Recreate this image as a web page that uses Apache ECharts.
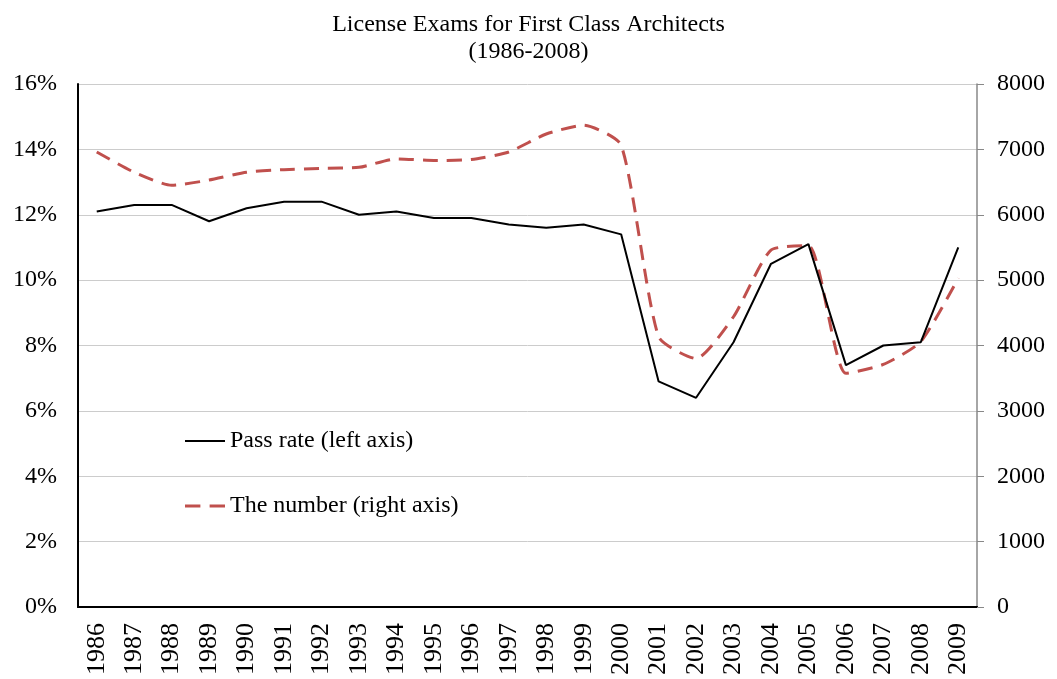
<!DOCTYPE html>
<html>
<head>
<meta charset="utf-8">
<script src="https://cdn.jsdelivr.net/npm/echarts@6/dist/echarts.min.js"></script>
<style>
html,body{margin:0;padding:0;background:#fff;}
#c{width:1057px;height:679px;}
</style>
</head>
<body>
<div id="c"></div>
<script>
var years = ['1986','1987','1988','1989','1990','1991','1992','1993','1994','1995','1996','1997','1998','1999','2000','2001','2002','2003','2004','2005','2006','2007','2008','2009'];
var passRate = [12.1,12.3,12.3,11.8,12.2,12.4,12.4,12.0,12.1,11.9,11.9,11.7,11.6,11.7,11.4,6.9,6.4,8.1,10.5,11.1,7.4,8.0,8.1,11.0];
var examinees = [6960,6650,6450,6530,6650,6690,6710,6725,6855,6830,6845,6960,7235,7370,7065,4135,3800,4440,5460,5525,3575,3710,4060,5030];
var leftTicks = [0,2,4,6,8,10,12,14,16];
var rightTicks = [0,1000,2000,3000,4000,5000,6000,7000,8000];
var titleLines = ['License Exams for First Class Architects','(1986-2008)'];
var seriesNames = ['Pass rate (left axis)','The number (right axis)'];

var FONT = '"Liberation Serif","Times New Roman",serif';
var chart = echarts.init(document.getElementById('c'), null, {renderer:'canvas'});
chart.setOption({
  animation:false,
  backgroundColor:'#fff',
  textStyle:{fontFamily:FONT,color:'#000'},
  title:{
    text:titleLines.join('\n'),
    left:'center', top:6,
    textStyle:{fontFamily:FONT,fontSize:24,fontWeight:'normal',color:'#000',lineHeight:27}
  },
  legend:[
    {data:[seriesNames[0]], left:180, top:424, itemWidth:40, itemHeight:14, itemGap:6,
     icon:'path://M0,6L40,6L40,8L0,8Z',
     textStyle:{fontFamily:FONT,fontSize:24,color:'#000'}, selectedMode:false},
    {data:[seriesNames[1]], left:180, top:489, itemWidth:40, itemHeight:14,
     icon:'path://M0,5.5L15,5.5L15,8.5L0,8.5ZM24,5.5L39,5.5L39,8.5L24,8.5Z',
     textStyle:{fontFamily:FONT,fontSize:24,color:'#000'}, selectedMode:false}
  ],
  grid:{left:78, right:80, top:84, bottom:72, containLabel:false},
  xAxis:[{
    type:'category', data:years, boundaryGap:true, position:'bottom',
    axisLine:{show:true,lineStyle:{color:'#000',width:2}},
    axisTick:{show:false},
    axisLabel:{rotate:90, fontFamily:FONT, fontSize:26, color:'#000', margin:16, interval:0}
  },{
    type:'category', data:years, position:'top',
    axisLine:{show:true,lineStyle:{color:'#000',width:1.5}},
    axisTick:{show:false}, axisLabel:{show:false}
  }],
  yAxis:[{
    type:'value', min:leftTicks[0], max:leftTicks[leftTicks.length-1], interval:2, position:'left',
    axisLine:{show:true,lineStyle:{color:'#000',width:2}},
    axisTick:{show:false},
    axisLabel:{formatter:'{value}%', fontFamily:FONT, fontSize:24, color:'#000', margin:21},
    splitLine:{show:true,lineStyle:{color:'#cccccc',width:1}}
  },{
    type:'value', min:rightTicks[0], max:rightTicks[rightTicks.length-1], interval:1000, position:'right',
    axisLine:{show:true,lineStyle:{color:'#888',width:1.5}},
    axisTick:{show:true,inside:false,length:7,lineStyle:{color:'#888'}},
    axisLabel:{formatter:function(v){return String(v);}, fontFamily:FONT, fontSize:24, color:'#000', margin:20},
    splitLine:{show:false}
  }],
  series:[{
    name:seriesNames[0], type:'line', yAxisIndex:0, data:passRate,
    symbol:'none', lineStyle:{color:'#000',width:2}, itemStyle:{color:'#000'}, z:3
  },{
    name:seriesNames[1], type:'line', yAxisIndex:1, data:examinees,
    symbol:'none', smooth:0.2,
    lineStyle:{color:'#c0504d',width:3,type:[15,9]}, itemStyle:{color:'#c0504d'}, z:2
  }]
});
</script>
</body>
</html>
